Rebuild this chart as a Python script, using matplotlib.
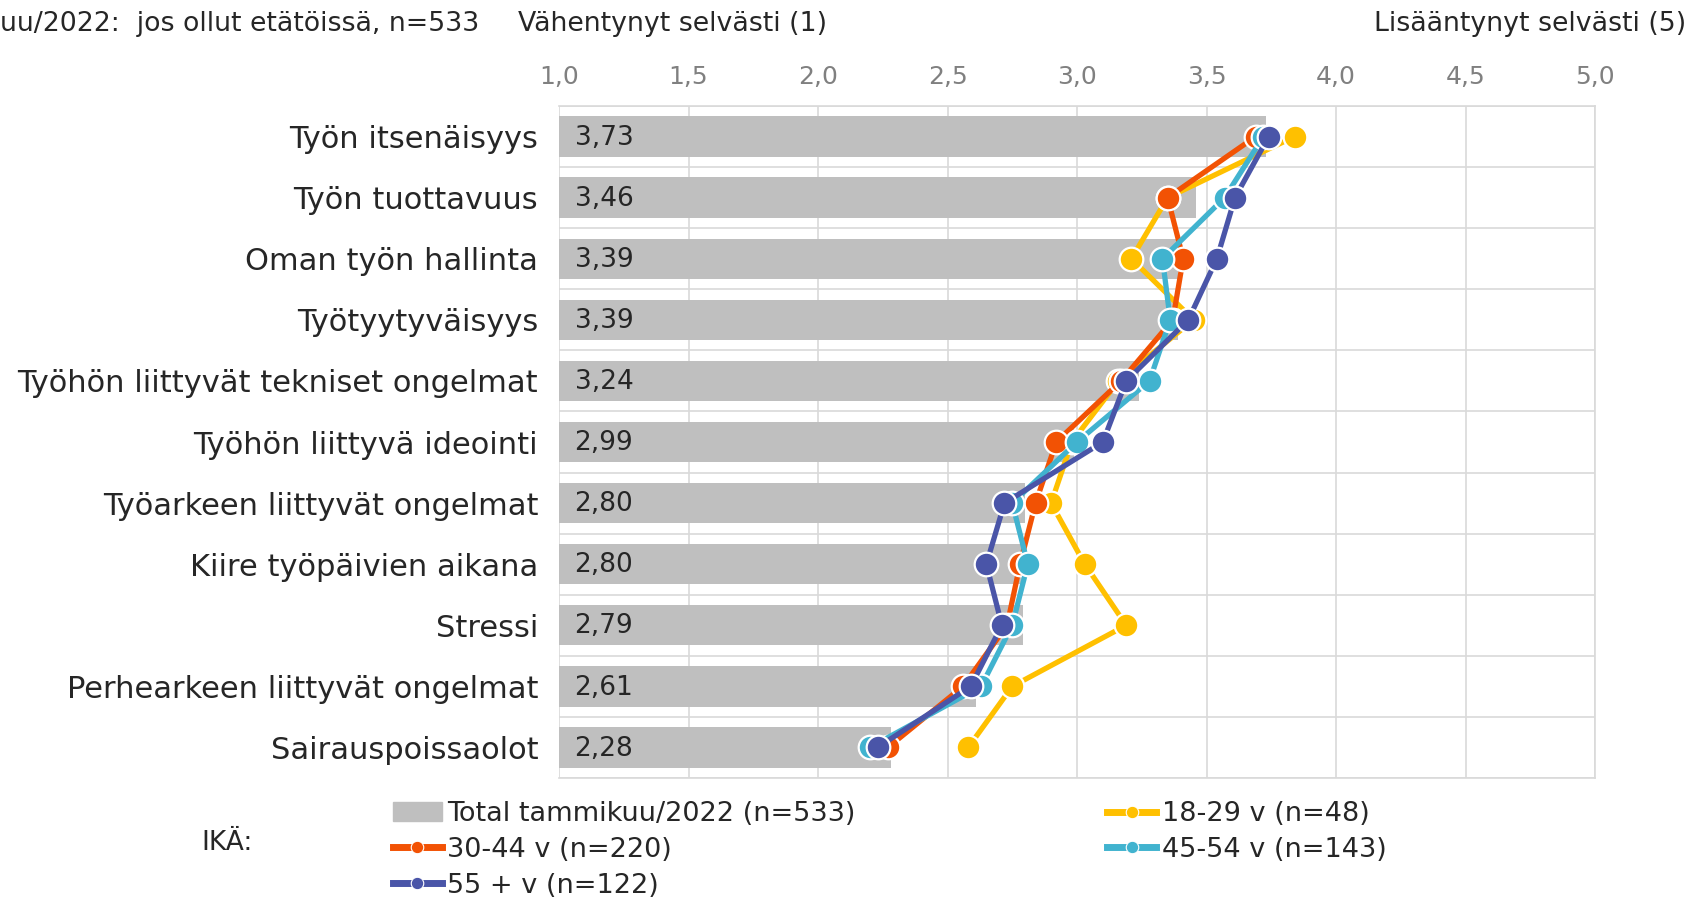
import numpy as np
import matplotlib
matplotlib.use('Agg')
import matplotlib.pyplot as plt
from matplotlib.lines import Line2D
from matplotlib.patches import Patch

# data
categories = ['Työn itsenäisyys', 'Työn tuottavuus', 'Oman työn hallinta', 'Työtyytyväisyys',
              'Työhön liittyvät tekniset ongelmat', 'Työhön liittyvä ideointi',
              'Työarkeen liittyvät ongelmat', 'Kiire työpäivien aikana', 'Stressi',
              'Perhearkeen liittyvät ongelmat', 'Sairauspoissaolot']
total = [3.73, 3.46, 3.39, 3.39, 3.24, 2.99, 2.80, 2.80, 2.79, 2.61, 2.28]
age_18_29 = [3.84, 3.35, 3.21, 3.45, 3.16, 2.98, 2.90, 3.03, 3.19, 2.75, 2.58]
age_30_44 = [3.69, 3.35, 3.41, 3.37, 3.17, 2.92, 2.84, 2.78, 2.73, 2.56, 2.27]
age_45_54 = [3.72, 3.57, 3.33, 3.36, 3.28, 3.00, 2.75, 2.81, 2.75, 2.63, 2.20]
age_55 = [3.74, 3.61, 3.54, 3.43, 3.19, 3.10, 2.72, 2.65, 2.71, 2.59, 2.23]
xticks = [1.0, 1.5, 2.0, 2.5, 3.0, 3.5, 4.0, 4.5, 5.0]

series = [('18-29 v (n=48)', age_18_29, '#FFC000'),
          ('30-44 v (n=220)', age_30_44, '#F25204'),
          ('45-54 v (n=143)', age_45_54, '#41B3CF'),
          ('55 + v (n=122)', age_55, '#4A55A8')]

plt.rcParams['font.family'] = ['DejaVu Sans']
txt_col = '#262626'
fig = plt.figure(figsize=(16.89, 8.97), dpi=100)
ax = fig.add_axes([559 / 1689, 1 - 778 / 897, 1036 / 1689, 672 / 897])

y = np.arange(len(categories))
bar_col = '#BFBFBF'
ax.barh(y, np.array(total) - 1, left=1, height=0.66, color=bar_col, zorder=2)
for yi, v in zip(y, total):
    ax.text(1.06, yi + 0.02, ('%.2f' % v).replace('.', ','), va='center', ha='left',
            fontsize=19, color=txt_col, zorder=3)

for name, vals, col in series:
    ax.plot(vals, y, color=col, lw=3.8, marker='o', markersize=17,
            markeredgecolor='white', markeredgewidth=1.6, zorder=4)

ax.set_xlim(1, 5)
ax.set_ylim(len(categories) - 0.5, -0.5)
ax.set_xticks(xticks)
ax.set_xticklabels([('%.1f' % t).replace('.', ',') for t in xticks])
ax.xaxis.tick_top()
ax.tick_params(axis='x', length=0, pad=12, labelsize=18, labelcolor='#808080')
ax.set_yticks(y)
ax.set_yticklabels(categories)
ax.tick_params(axis='y', length=0, pad=15, labelsize=22, labelcolor=txt_col)
ax.set_yticks(np.arange(len(categories) + 1) - 0.5, minor=True)
ax.tick_params(axis='y', which='minor', length=0)
ax.grid(axis='x', color='#D9D9D9', lw=1.2, zorder=0)
ax.grid(axis='y', which='minor', color='#D9D9D9', lw=1.2, zorder=0)
for s in ax.spines.values():
    s.set_color('#D9D9D9')
    s.set_linewidth(1.2)
ax.spines['left'].set_visible(False)

# header texts
fig.text(0, 1 - 24 / 897, 'uu/2022:  jos ollut etätöissä, n=533', fontsize=19.3,
         color=txt_col, va='center', ha='left')
fig.text(518 / 1689, 1 - 24 / 897, 'Vähentynyt selvästi (1)', fontsize=19.3,
         color=txt_col, va='center', ha='left')
fig.text(1686 / 1689, 1 - 24 / 897, 'Lisääntynyt selvästi (5)', fontsize=19.3,
         color=txt_col, va='center', ha='right')
fig.text(201 / 1689, 1 - 843 / 897, 'IKÄ:', fontsize=19, color=txt_col,
         va='center', ha='left')

handles = [Patch(color=bar_col, label='Total tammikuu/2022 (n=533)')]
lines = {}
for name, vals, col in series:
    lines[name] = Line2D([0], [0], color=col, lw=5, marker='o', markersize=9,
                         markeredgecolor='white', markeredgewidth=0.8, label=name)
handles = [handles[0], lines['30-44 v (n=220)'], lines['55 + v (n=122)'],
           lines['18-29 v (n=48)'], lines['45-54 v (n=143)']]
fig.legend(handles=handles, ncol=2, loc='upper left',
           bbox_to_anchor=(393 / 1689, 1 - 801 / 897), frameon=False, fontsize=19.5,
           handlelength=1.8, handletextpad=0.2, columnspacing=9.3,
           labelspacing=0.36, borderaxespad=0, borderpad=0, labelcolor=txt_col)

fig.savefig('out.png', dpi=100)
